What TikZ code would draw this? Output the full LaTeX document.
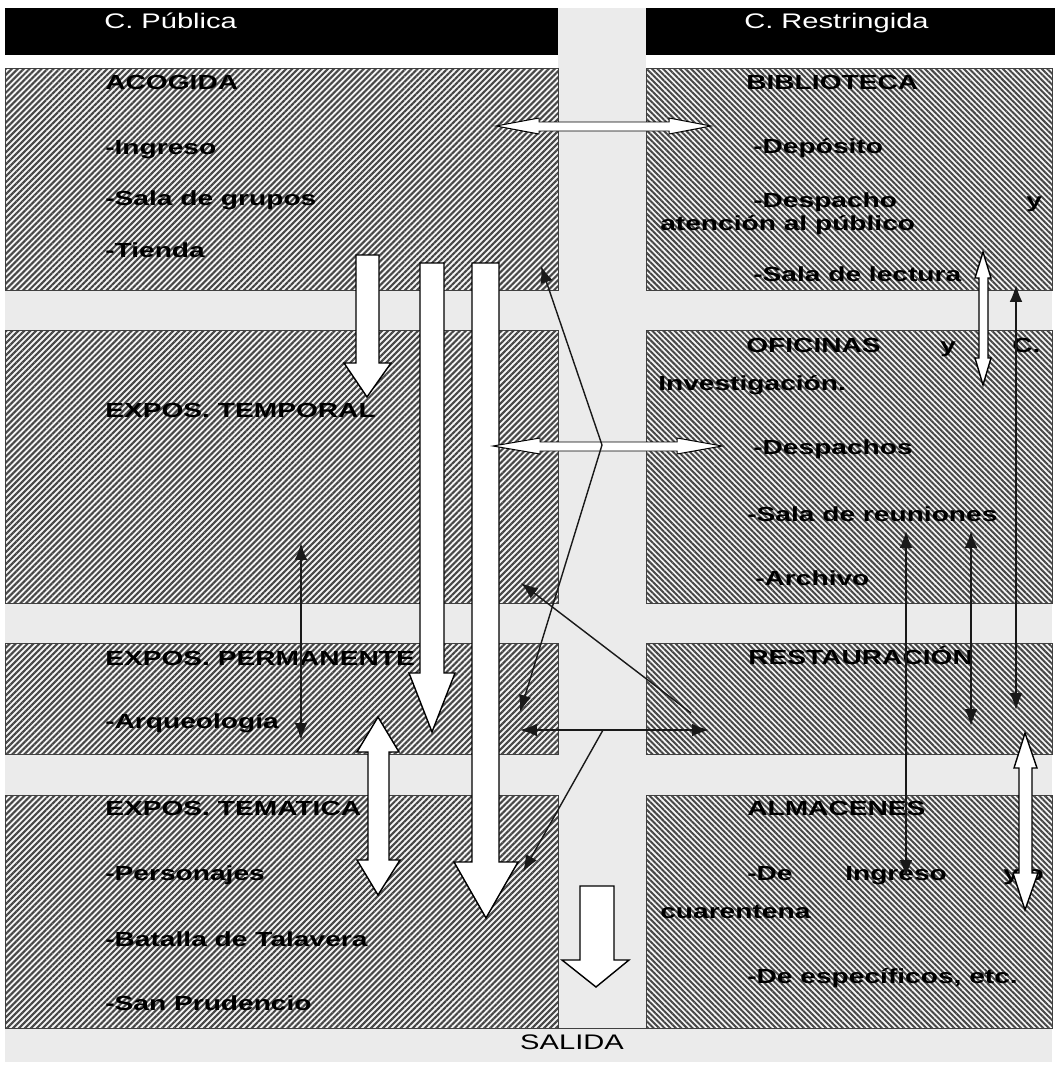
\documentclass[tikz,border=0pt]{standalone}
\usepackage{fontspec}
\setmainfont{Liberation Sans}[FakeStretch=1.38]
\usetikzlibrary{arrows.meta,patterns.meta}

\begin{document}
\begin{tikzpicture}[
  x=0.025cm, y=-0.025cm,
  corridor/.style={fill=black!8},
  header/.style={anchor=base west, inner sep=0pt, text=white, font=\fontsize{15}{18}\selectfont},
  roomL/.style={draw=black!75, line width=0.5pt, preaction={fill=black!4},
    pattern={Lines[angle=45,distance=3pt,line width=1.5pt]}, pattern color=black!72},
  roomR/.style={draw=black!75, line width=0.5pt, preaction={fill=black!4},
    pattern={Lines[angle=-45,distance=2.8pt,line width=1.4pt]}, pattern color=black!72},
  lbl/.style={anchor=base west, inner sep=0pt, font=\fontsize{14.5}{17}\selectfont\bfseries},
  block/.style={draw=black, fill=white, line width=1pt, line join=miter},
  link/.style={draw=black!90, line width=1pt},
  arr/.style={-{Latex[length=12pt,width=9pt]}},
  rarr/.style={{Latex[length=12pt,width=9pt]}-},
  darr/.style={{Latex[length=12pt,width=9pt]}-{Latex[length=12pt,width=9pt]}}
]
\useasboundingbox (0,0) rectangle (1055,1065);

% corridors and header
\fill[corridor] (5,68) rectangle (1052,1062);
\fill[corridor] (558,8) rectangle (646,68);
\fill[black] (5,8) rectangle (558,55);
\fill[black] (646,8) rectangle (1055,55);
\node[header] (publica) at (104,28) {C. Pública};
\node[header] (restringida) at (744,28) {C. Restringida};

% rooms
\path[roomL] (5,68) rectangle (558,290);
\path[roomL] (5,330) rectangle (558,603);
\path[roomL] (5,643) rectangle (558,754);
\path[roomL] (5,795) rectangle (558,1028);
\path[roomR] (646,68) rectangle (1052,290);
\path[roomR] (646,330) rectangle (1052,603);
\path[roomR] (646,643) rectangle (1052,754);
\path[roomR] (646,795) rectangle (1052,1028);
\draw[black!75, line width=0.5pt] (5,1028) -- (1052,1028);

% public side
\node[lbl] (acogida) at (105,89) {ACOGIDA};
\node[lbl] (ingreso) at (105,154) {-Ingreso};
\node[lbl] (grupos) at (105,205) {-Sala de grupos};
\node[lbl] (tienda) at (105,257) {-Tienda};
\node[lbl] (temporal) at (105,417) {EXPOS. TEMPORAL};
\node[lbl] (permanente) at (105,665) {EXPOS. PERMANENTE};
\node[lbl] (arqueo) at (105,728) {-Arqueología};
\node[lbl] (tematica) at (105,815) {EXPOS. TEMATICA};
\node[lbl] (personajes) at (105,880) {-Personajes};
\node[lbl] (talavera) at (105,946) {-Batalla de Talavera};
\node[lbl] (prudencio) at (105,1010) {-San Prudencio};

% restricted side
\node[lbl] (biblio) at (746,89) {BIBLIOTECA};
\node[lbl] (deposito) at (753,153) {-Depósito};
\node[lbl] (despacho) at (753,207) {-Despacho};
\node[lbl] (despachoy) at (1026,207) {y};
\node[lbl] (atencion) at (660,230) {atención al público};
\node[lbl] (lectura) at (753,281) {-Sala de lectura};
\node[lbl] (oficinas) at (746,352) {OFICINAS};
\node[lbl] (oficinasy) at (940,352) {y};
\node[lbl] (oficinasc) at (1012,352) {C.};
\node[lbl] (investig) at (658,390) {Investigación.};
\node[lbl] (despachos) at (753,454) {-Despachos};
\node[lbl] (reuniones) at (747,521) {-Sala de reuniones};
\node[lbl] (archivo) at (755,585) {-Archivo};
\node[lbl] (restaur) at (748,664) {RESTAURACIÓN};
\node[lbl] (almacenes) at (747,815) {ALMACENES};
\node[lbl] (dei) at (747,880) {-De};
\node[lbl] (ingresoi) at (845,880) {Ingreso};
\node[lbl] (yo) at (1003,880) {y o};
\node[lbl] (cuarentena) at (660,918) {cuarentena};
\node[lbl] (especificos) at (747,983) {-De específicos, etc.};
\node[font=\fontsize{15}{18}\selectfont] (salida) at (572,1042) {SALIDA};

% white flow arrows
\draw[block] (356,255) -- (379,255) -- (379,363) -- (391,363) -- (367,397) -- (344,363) -- (356,363) -- cycle;
\draw[block] (420,263) -- (444,263) -- (444,673) -- (455,673) -- (432,732) -- (409,673) -- (420,673) -- cycle;
\draw[block] (472,263) -- (499,263) -- (499,862) -- (518,862) -- (486,918) -- (454,862) -- (472,862) -- cycle;
\draw[block] (378,717) -- (399,752) -- (389,752) -- (389,860) -- (400,860) -- (378,895)
  -- (357,860) -- (368,860) -- (368,752) -- (357,752) -- cycle;
\draw[block] (580,886) -- (614,886) -- (614,960) -- (629,960) -- (596,987) -- (562,960) -- (580,960) -- cycle;
\draw[block, line width=0.7pt] (496,126) -- (539,118) -- (539,122) -- (669,122) -- (669,118) -- (711,126)
  -- (669,134) -- (669,131) -- (539,131) -- (539,134) -- cycle;
\draw[block, line width=0.7pt] (493,446) -- (540,438) -- (540,442) -- (677,442) -- (677,438) -- (722,446)
  -- (677,454) -- (677,451) -- (540,451) -- (540,454) -- cycle;
\draw[block] (983,252) -- (991,278) -- (988,278) -- (988,358) -- (991,358) -- (983,385)
  -- (975,358) -- (979,358) -- (979,278) -- (975,278) -- cycle;
\draw[block] (1025,733) -- (1037,768) -- (1032,768) -- (1032,873) -- (1038,873) -- (1025,910)
  -- (1013,873) -- (1019,873) -- (1019,768) -- (1014,768) -- cycle;

% thin links
\coordinate (t1a) at (301,543);
\coordinate (t1b) at (301,740);
\coordinate (t2a) at (541,266);
\coordinate (t2m) at (602,445);
\coordinate (t2b) at (520,712);
\coordinate (t3a) at (521,583);
\coordinate (t3b) at (691,713);
\coordinate (t4a) at (520,730);
\coordinate (t4b) at (709,730);
\coordinate (t5a) at (603,730);
\coordinate (t5b) at (523,872);
\coordinate (t6a) at (906,531);
\coordinate (t6b) at (906,877);
\coordinate (t7a) at (971,531);
\coordinate (t7b) at (971,726);
\coordinate (t8a) at (1016,285);
\coordinate (t8b) at (1016,710);

\draw[link, darr] (t1a) -- (t1b);
\draw[link, darr] (t2a) -- (t2m) -- (t2b);
\draw[link, rarr] (t3a) -- (t3b);
\draw[link, darr] (t4a) -- (t4b);
\draw[link, arr] (t5a) -- (t5b);
\draw[link, darr] (t6a) -- (t6b);
\draw[link, darr] (t7a) -- (t7b);
\draw[link, darr] (t8a) -- (t8b);
\end{tikzpicture}
\end{document}
